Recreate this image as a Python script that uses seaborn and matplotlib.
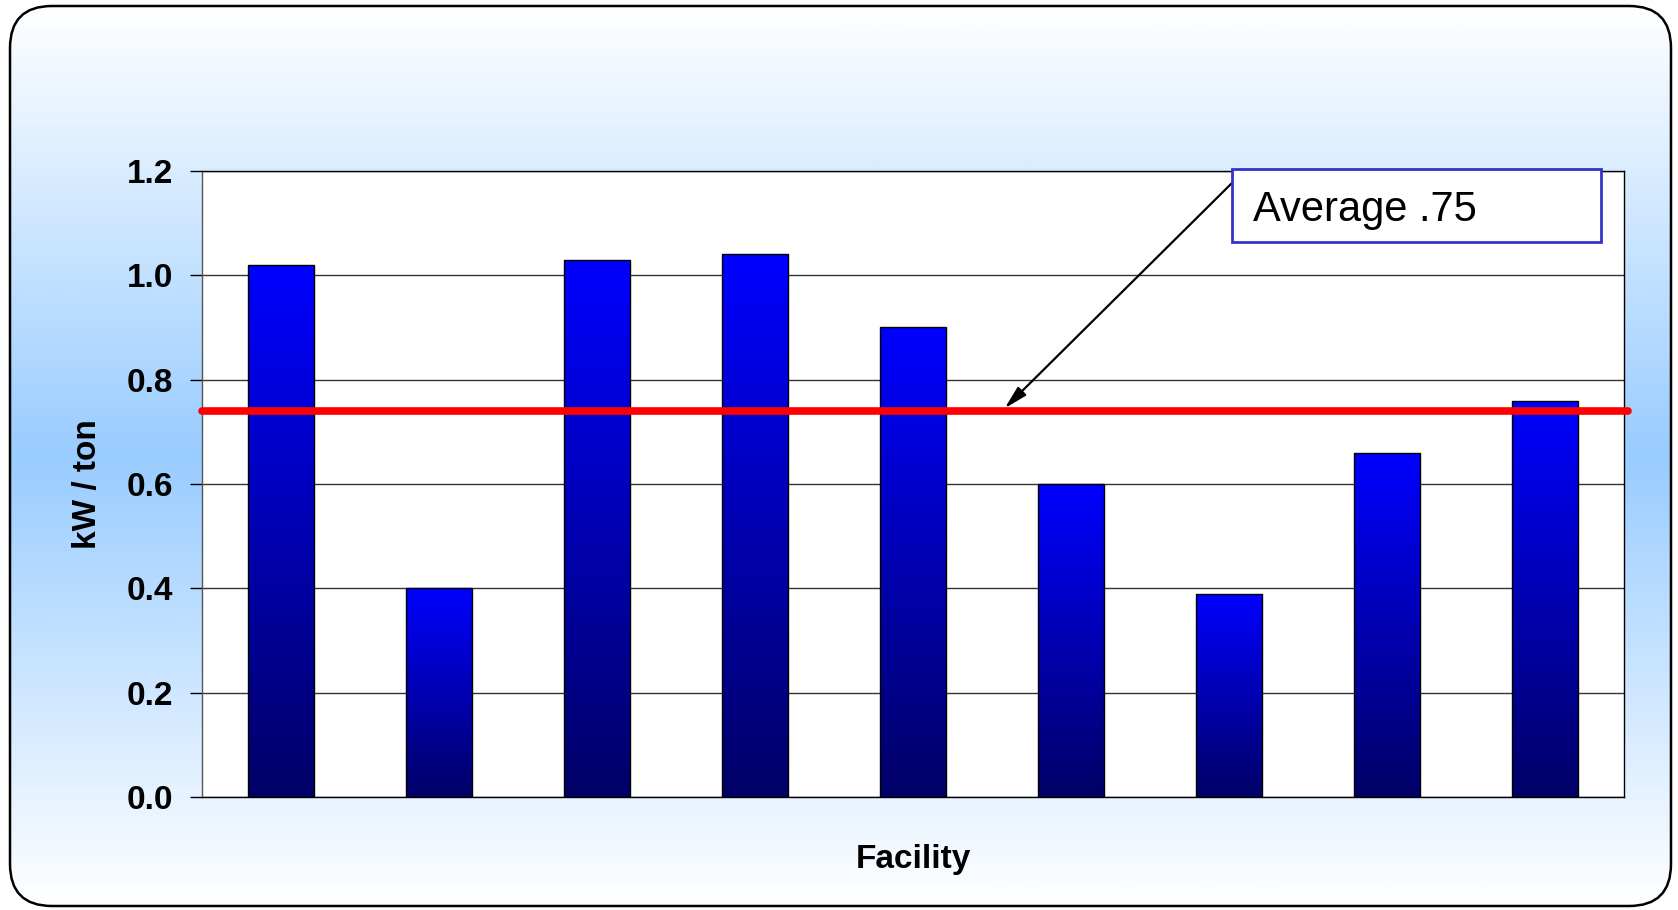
import numpy as np
import pandas as pd
import matplotlib
matplotlib.use("Agg")
import matplotlib.pyplot as plt
import seaborn as sns
from matplotlib.colors import LinearSegmentedColormap
from matplotlib.patches import FancyBboxPatch, Rectangle

# data
facilities = ["F1", "F2", "F3", "F4", "F5", "F6", "F7", "F8", "F9"]
kw_per_ton = [1.02, 0.40, 1.03, 1.04, 0.90, 0.60, 0.39, 0.66, 0.76]
average_line = 0.74
average_label = "Average .75"
y_ticks = [0.0, 0.2, 0.4, 0.6, 0.8, 1.0, 1.2]

sns.set_style("white")
plt.rcParams["font.family"] = ["Liberation Sans", "DejaVu Sans"]
plt.rcParams["text.color"] = "black"
plt.rcParams["axes.labelcolor"] = "black"
plt.rcParams["ytick.color"] = "black"

W, H = 1678, 910
fig = plt.figure(figsize=(W / 100, H / 100), dpi=100)

# background: rounded panel with white -> light blue -> white gradient
bg = fig.add_axes([0, 0, 1, 1], zorder=0)
bg.set_xlim(0, W)
bg.set_ylim(H, 0)
bg.axis("off")
bg_cmap = LinearSegmentedColormap.from_list(
    "bg", [(0.0, "#ffffff"), (0.5, "#99ccff"), (1.0, "#ffffff")])
grad = np.linspace(0, 1, 512).reshape(-1, 1)
panel = FancyBboxPatch((10, 6), 1661, 900, boxstyle="round,pad=0,rounding_size=42",
                       facecolor="none", edgecolor="black", linewidth=1.8)
bg.add_patch(panel)
img = bg.imshow(grad, cmap=bg_cmap, aspect="auto", extent=(10, 1671, 906, 6), zorder=0)
img.set_clip_path(panel)

# main plot
ax = fig.add_axes([202 / W, 1 - 797 / H, 1422 / W, 626 / H], zorder=1)
df = pd.DataFrame({"Facility": facilities, "kW / ton": kw_per_ton})
sns.barplot(data=df, x="Facility", y="kW / ton", ax=ax, width=0.417,
            color="#0000ff", edgecolor="black", linewidth=1.0, zorder=2)

# vertical gradient fill inside each bar
bar_cmap = LinearSegmentedColormap.from_list("bar", ["#000066", "#0000ff"])
bar_grad = np.linspace(0, 1, 256).reshape(-1, 1)
for p in ax.patches:
    x0, y0 = p.get_x(), p.get_y()
    w, h = p.get_width(), p.get_height()
    im = ax.imshow(bar_grad, cmap=bar_cmap, aspect="auto", origin="lower",
                   extent=(x0, x0 + w, y0, y0 + h), zorder=2)
    im.set_clip_path(p)
    p.set_facecolor("none")
    p.set_zorder(3)

ax.set_xlim(-0.5, len(facilities) - 0.5)
ax.set_ylim(0, 1.2)
ax.set_yticks(y_ticks)
ax.set_yticklabels([f"{t:.1f}" for t in y_ticks])
ax.set_xticks([])
ax.set_facecolor("white")
ax.grid(axis="y", color="#333333", linewidth=1.0, zorder=0)
ax.set_axisbelow(True)
for s in ax.spines.values():
    s.set_visible(True)
    s.set_color("black")
    s.set_linewidth(1.0)
ax.spines["left"].set_color("#555555")
ax.tick_params(axis="y", direction="out", length=9, width=1, left=True,
               labelsize=24, pad=12)
for lbl in ax.get_yticklabels():
    lbl.set_fontweight("bold")

ax.set_xlabel("Facility", fontsize=24, fontweight="bold", labelpad=34)
ax.set_ylabel("kW / ton", fontsize=24, fontweight="bold", labelpad=17)

# red average line
ax.axhline(average_line, xmin=0, xmax=1.003, color="red", linewidth=5.5,
           zorder=4, clip_on=False)

# label box and arrow
fig.patches.append(Rectangle((1232 / W, 1 - 242 / H), 369 / W, 73 / H,
                             transform=fig.transFigure, facecolor="white",
                             edgecolor="#3333cc", linewidth=2, zorder=5))
fig.text(1253 / W, 1 - 210 / H, average_label, fontsize=30, va="center",
         ha="left", zorder=6)
ax.annotate("", xy=(4.58, 0.745), xytext=(1233 / W, 1 - 182 / H),
            textcoords="figure fraction",
            arrowprops=dict(arrowstyle="-|>,head_length=1.4,head_width=0.35",
                            color="black", lw=1.6, shrinkA=0, shrinkB=0),
            zorder=6, annotation_clip=False)

fig.savefig("out.png", dpi=100)
